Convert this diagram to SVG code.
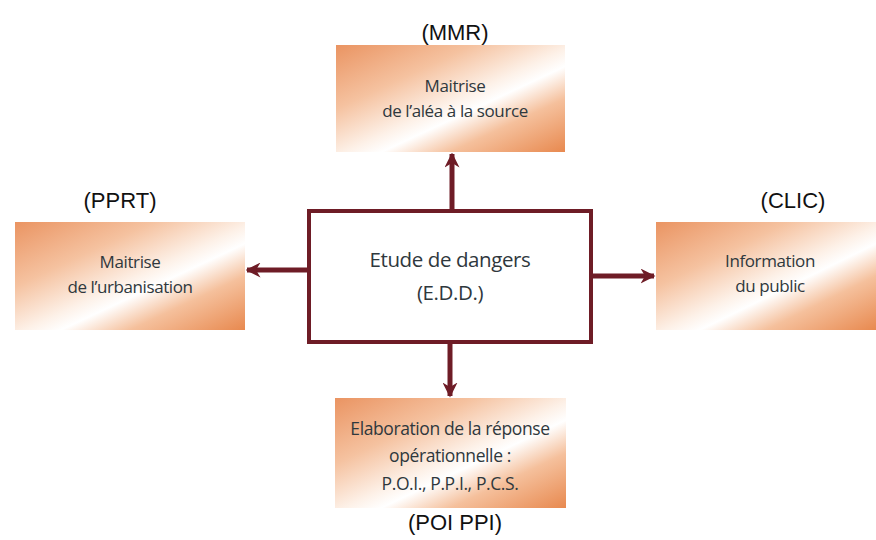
<svg xmlns="http://www.w3.org/2000/svg" width="876" height="540" viewBox="0 0 876 540">
<defs>
<linearGradient id="og" x1="0" y1="0" x2="1" y2="1">
<stop offset="0" stop-color="#ea9462"/>
<stop offset="0.3" stop-color="#f5c2a0"/>
<stop offset="0.52" stop-color="#fdf1e8"/>
<stop offset="0.6" stop-color="#ffffff"/>
<stop offset="0.75" stop-color="#f5c09c"/>
<stop offset="1" stop-color="#e8894f"/>
</linearGradient>
<marker id="ah" viewBox="0 0 10 10" refX="9" refY="5" markerWidth="3" markerHeight="3" orient="auto" markerUnits="strokeWidth">
<path d="M0,0 L10,5 L0,10 L3,5 Z" fill="#6e1c26"/>
</marker>
</defs>
<style>
.box{fill:url(#og);}
.t{font-family:"Open Sans","DejaVu Sans",sans-serif;font-size:17px;letter-spacing:-0.4px;fill:#2f383d;text-anchor:middle;}
.lab{font-family:"Liberation Sans",Arial,sans-serif;font-size:22px;fill:#111;text-anchor:middle;}
.c{stroke:#6e1c26;stroke-width:5;fill:none;marker-end:url(#ah);}
</style>
<rect width="876" height="540" fill="#ffffff"/>
<g id="connectors">
<line class="c" x1="452" y1="209" x2="452" y2="154"/>
<line class="c" x1="307" y1="270" x2="247" y2="270"/>
<line class="c" x1="593" y1="276" x2="654" y2="276"/>
<line class="c" x1="450" y1="344" x2="450" y2="396"/>
</g>
<g id="center">
<rect x="309" y="211" width="282" height="131" fill="#ffffff" stroke="#6e1c26" stroke-width="4"/>
<text class="t" x="450" y="267" style="font-size:20.5px">Etude de dangers</text>
<text class="t" x="450" y="300" style="font-size:20.5px">(E.D.D.)</text>
</g>
<g id="top">
<rect class="box" x="336" y="45" width="229" height="107"/>
<text class="t" x="455" y="92">Maitrise</text>
<text class="t" x="455" y="117">de l’aléa à la source</text>
<text class="lab" x="455" y="40">(MMR)</text>
</g>
<g id="left">
<rect class="box" x="15" y="222" width="230" height="108"/>
<text class="t" x="130" y="268">Maitrise</text>
<text class="t" x="130" y="293">de l’urbanisation</text>
<text class="lab" x="120" y="208">(PPRT)</text>
</g>
<g id="right">
<rect class="box" x="656" y="222" width="220" height="108"/>
<text class="t" x="770" y="267">Information</text>
<text class="t" x="770" y="292">du public</text>
<text class="lab" x="793" y="208">(CLIC)</text>
</g>
<g id="bottom">
<rect class="box" x="335" y="398" width="231" height="110"/>
<text class="t" x="450" y="435" style="font-size:17.5px">Elaboration de la réponse</text>
<text class="t" x="450" y="462" style="font-size:17.5px">opérationnelle :</text>
<text class="t" x="450" y="490" style="font-size:17.5px">P.O.I., P.P.I., P.C.S.</text>
<text class="lab" x="455" y="530">(POI PPI)</text>
</g>
</svg>
